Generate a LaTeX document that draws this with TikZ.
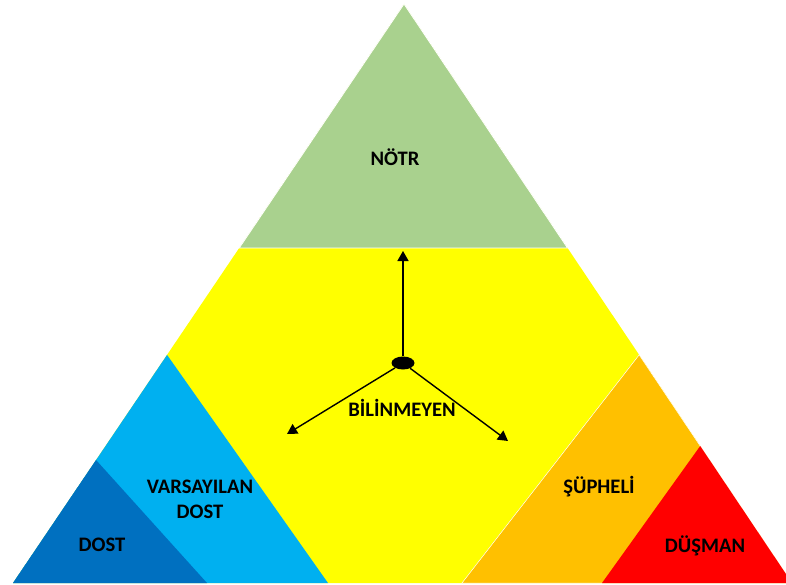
\documentclass[tikz,border=0pt]{standalone}
\usepackage{fontspec}
\setmainfont{Carlito}
\usetikzlibrary{calc,arrows.meta,shapes.geometric}
\definecolor{cgreen}{HTML}{A9D18E}
\definecolor{cyellow}{HTML}{FFFF00}
\definecolor{cblue}{HTML}{00B0F0}
\definecolor{cdblue}{HTML}{0070C0}
\definecolor{corange}{HTML}{FFC000}
\definecolor{cred}{HTML}{FF0000}
\begin{document}
\begin{tikzpicture}[x=1pt,y=-1pt,
  lbl/.style={font=\fontsize{20.6}{25}\selectfont\bfseries, text=black, align=center, inner sep=0pt},
  arr/.style={line width=1.4pt, -{Triangle[length=10pt,width=11pt]}},
  region/.style={draw=white, line width=0.8pt, line join=miter}]
\clip (0,0) rectangle (786,585);
\fill[white] (0,0) rectangle (786,585);
% main triangle corners
\coordinate (A) at (404,4);
\coordinate (L) at (13,583);
\coordinate (R) at (792,583);
% points on the edges
\coordinate (GL) at ($(A)!0.4214!(L)$);
\coordinate (GR) at ($(A)!0.4214!(R)$);
\coordinate (BA) at ($(A)!0.606!(L)$);
\coordinate (DA) at ($(A)!0.7876!(L)$);
\coordinate (OA) at ($(A)!0.606!(R)$);
\coordinate (RA) at ($(A)!0.7634!(R)$);
% points on the base
\coordinate (B1) at (207,583);
\coordinate (B2) at (328,583);
\coordinate (B3) at (462,583);
\coordinate (B4) at (602,583);
% regions
\fill[cyellow] (A) -- (L) -- (R) -- cycle;
\filldraw[region, fill=cgreen] (A) -- (GL) -- (GR) -- cycle;
\filldraw[region, fill=cblue, draw=none] (BA) -- (L) -- (B2) -- cycle;
\filldraw[region, fill=cdblue, draw=none] (DA) -- (L) -- (B1) -- cycle;
\filldraw[region, fill=corange, line width=0.5pt] (OA) -- (B3) -- (R) -- cycle;
\filldraw[region, fill=cred, draw=none] (RA) -- (B4) -- (R) -- cycle;
% centre and arrows
\node[ellipse, fill=black, minimum width=23pt, minimum height=13pt, inner sep=0pt] (c) at (403,363) {};
\coordinate (tU) at (403,251);
\coordinate (tL) at (287,434);
\coordinate (tR) at (508,441);
\draw[arr] (c) -- (tU);
\draw[arr] (c) -- (tL);
\draw[arr] (c) -- (tR);
% labels
\node[lbl] (notr) at (395,157) {NÖTR};
\node[lbl] (bil) at (402,408) {BİLİNMEYEN};
\node[lbl] (vdost) at (200,499) {VARSAYILAN\\DOST};
\node[lbl] (dost) at (102,545) {DOST};
\node[lbl] (sup) at (599,487) {ŞÜPHELİ};
\node[lbl] (dus) at (705,546) {DÜŞMAN};
\end{tikzpicture}
\end{document}
